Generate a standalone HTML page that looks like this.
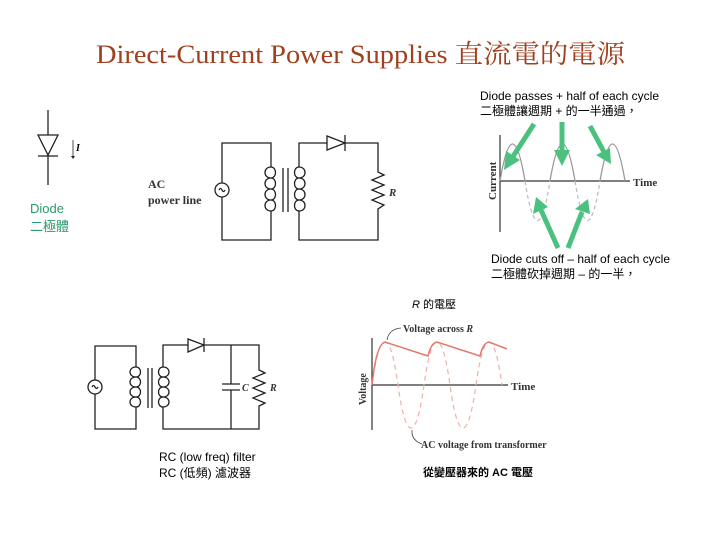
<!DOCTYPE html>
<html><head><meta charset="utf-8"><style>
body{margin:0;background:#fff;}
svg{display:block}
.s{font-family:"Liberation Sans","Noto Sans CJK TC",sans-serif;}
.t{font-family:"Liberation Serif","Noto Serif CJK SC",serif;}
</style></head><body>
<svg width="720" height="540" viewBox="0 0 720 540" xmlns="http://www.w3.org/2000/svg">
<text x="96" y="63" class="t" font-size="26" fill="#a0401f" textLength="529" lengthAdjust="spacingAndGlyphs">Direct-Current Power Supplies  直流電的電源</text>

<!-- standalone diode -->
<g stroke="#222" stroke-width="1.3" fill="none">
<line x1="48" y1="110" x2="48" y2="185"/>
<polygon points="38,135 58,135 48,155" fill="#fff"/>
<line x1="38" y1="156" x2="58" y2="156"/>
<line x1="73" y1="140" x2="73" y2="157" stroke-width="0.8"/>
</g>
<polygon points="71,156 75,156 73,159" fill="#222"/>
<text x="76" y="151" class="t" font-size="10" font-style="italic" font-weight="bold">I</text>
<text x="30" y="213" class="s" font-size="13" fill="#2a9a6a">Diode</text>
<text x="30" y="231" class="s" font-size="13" fill="#2a9a6a">二極體</text>

<!-- top circuit -->
<g stroke="#222" stroke-width="1.3" fill="none">
<polyline points="271,167 271,143 222,143 222,183"/>
<polyline points="222,197 222,240 271,240 271,211"/>
<circle cx="222" cy="190" r="7"/>
<path d="M219,190 q1.5,-3 3,0 t3,0"/>
<path d="M271,167 c6,0 6,11 0,11 c-8,0 -8,-11 0,-11 M271,178 c6,0 6,11 0,11 c-8,0 -8,-11 0,-11 M271,189 c6,0 6,11 0,11 c-8,0 -8,-11 0,-11 M271,200 c6,0 6,11 0,11 c-8,0 -8,-11 0,-11"/>
<line x1="283" y1="168" x2="283" y2="212"/><line x1="288" y1="168" x2="288" y2="212"/>
<path d="M299,167 c-6,0 -6,11 0,11 c8,0 8,-11 0,-11 M299,178 c-6,0 -6,11 0,11 c8,0 8,-11 0,-11 M299,189 c-6,0 -6,11 0,11 c8,0 8,-11 0,-11 M299,200 c-6,0 -6,11 0,11 c8,0 8,-11 0,-11"/>
<polyline points="299,167 299,143 378,143 378,172 384,175 372,180 384,185 372,190 384,195 372,200 384,205 378,209 378,240 299,240 299,211"/>
<polygon points="327,136 327,150 345,143" fill="#fff"/>
<line x1="345" y1="135" x2="345" y2="151"/>
</g>
<text x="148" y="188" class="t" font-size="12" font-weight="bold" fill="#333">AC</text>
<text x="148" y="204" class="t" font-size="12" font-weight="bold" fill="#333">power line</text>
<text x="389" y="196" class="t" font-size="11" font-weight="bold" font-style="italic" fill="#333">R</text>

<!-- current plot -->
<text x="480" y="100" class="s" font-size="12" textLength="179" lengthAdjust="spacingAndGlyphs">Diode passes + half of each cycle</text>
<text x="480" y="115" class="s" font-size="12">二極體讓週期 + 的一半通過，</text>
<g fill="none">
<line x1="500" y1="135" x2="500" y2="232" stroke="#333" stroke-width="1.2"/>
<line x1="500" y1="181" x2="630" y2="181" stroke="#333" stroke-width="1.2"/>
<path d="M500,181 Q512.5,107 525,181 M550,181 Q562.5,107 575,181 M600,181 Q612.5,107 625,181" stroke="#999" stroke-width="1.3"/>
<path d="M525,181 Q537.5,260 550,181 M575,181 Q587.5,260 600,181" stroke="#bbb" stroke-width="1.2" stroke-dasharray="4,3"/>
</g>
<text x="633" y="186" class="t" font-size="11" font-weight="bold" fill="#333">Time</text>
<text transform="translate(496,200) rotate(-90)" class="t" font-size="11" font-weight="bold" fill="#333">Current</text>
<g stroke="#4cc07f" stroke-width="5" fill="#4cc07f">
<line x1="534" y1="124" x2="512" y2="158"/><polygon points="504,170 506,151 520,160" stroke="none"/>
<line x1="562" y1="122" x2="562" y2="152"/><polygon points="562,166 554,150 570,150" stroke="none"/>
<line x1="590" y1="126" x2="604" y2="152"/><polygon points="611,164 596,155 610,148" stroke="none"/>
<line x1="558" y1="248" x2="541" y2="210"/><polygon points="536,197 533,214 548,207" stroke="none"/>
<line x1="568" y1="248" x2="582" y2="212"/><polygon points="588,199 575,209 590,214" stroke="none"/>
</g>
<text x="491" y="263" class="s" font-size="12" textLength="179" lengthAdjust="spacingAndGlyphs">Diode cuts off – half of each cycle</text>
<text x="491" y="278" class="s" font-size="12">二極體砍掉週期 –  的一半，</text>

<!-- bottom circuit -->
<g stroke="#222" stroke-width="1.3" fill="none">
<polyline points="136,367 136,346 95,346 95,380"/>
<polyline points="95,394 95,429 136,429 136,407"/>
<circle cx="95" cy="387" r="7"/>
<path d="M92,387 q1.5,-3 3,0 t3,0"/>
<path d="M136,367 c-6,0 -6,10 0,10 c8,0 8,-10 0,-10 M136,377 c-6,0 -6,10 0,10 c8,0 8,-10 0,-10 M136,387 c-6,0 -6,10 0,10 c8,0 8,-10 0,-10 M136,397 c-6,0 -6,10 0,10 c8,0 8,-10 0,-10" transform="translate(272,0) scale(-1,1)"/>
<line x1="148" y1="368" x2="148" y2="408"/><line x1="152" y1="368" x2="152" y2="408"/>
<path d="M163,367 c-6,0 -6,10 0,10 c8,0 8,-10 0,-10 M163,377 c-6,0 -6,10 0,10 c8,0 8,-10 0,-10 M163,387 c-6,0 -6,10 0,10 c8,0 8,-10 0,-10 M163,397 c-6,0 -6,10 0,10 c8,0 8,-10 0,-10"/>
<polyline points="163,367 163,345 259,345 259,370 265,373 253,378 265,383 253,388 265,393 253,398 265,403 259,406 259,429 163,429 163,407"/>
<polygon points="188,339 188,352 204,345" fill="#fff"/>
<line x1="204" y1="338" x2="204" y2="352"/>
<polyline points="231,345 231,384"/><polyline points="231,390 231,429"/>
<line x1="222" y1="384" x2="240" y2="384"/><line x1="222" y1="390" x2="240" y2="390"/>
</g>
<text x="242" y="391" class="t" font-size="10" font-weight="bold" font-style="italic" fill="#333">C</text>
<text x="270" y="391" class="t" font-size="10" font-weight="bold" font-style="italic" fill="#333">R</text>
<text x="159" y="461" class="s" font-size="12">RC (low freq) filter</text>
<text x="159" y="477" class="s" font-size="12">RC   (低頻) 濾波器</text>

<!-- voltage plot -->
<text x="412" y="308" class="s" font-size="11"><tspan font-style="italic">R</tspan> 的電壓</text>
<text x="403" y="332" class="t" font-size="10" font-weight="bold" fill="#333">Voltage across <tspan font-style="italic">R</tspan></text>
<path d="M401,328 q-12,1 -14,12" fill="none" stroke="#444" stroke-width="0.8"/>
<g fill="none">
<line x1="372" y1="338" x2="372" y2="430" stroke="#333" stroke-width="1.2"/>
<line x1="372" y1="385" x2="508" y2="385" stroke="#333" stroke-width="1.2"/>
<path d="M372,385 Q378,341 385,342 Q392,342 398,385 Q404,428 411,428 Q418,428 424,385 Q430,342 437,342 Q444,342 450,385 Q456,428 463,428 Q470,428 476,385 Q482,342 489,342 Q496,342 502,385" stroke="#f0b0a8" stroke-width="1.2" stroke-dasharray="5,4"/>
<path d="M372,385 Q376,345 385,342 L428,356 Q431,343 437,342 L480,356 Q483,343 489,342 L507,349" stroke="#e07a6a" stroke-width="1.5"/>
</g>
<text x="511" y="390" class="t" font-size="11" font-weight="bold" fill="#333">Time</text>
<text transform="translate(366,405) rotate(-90)" class="t" font-size="10" font-weight="bold" fill="#333">Voltage</text>
<path d="M412,430 q-1,10 10,14" fill="none" stroke="#444" stroke-width="0.8"/>
<text x="421" y="448" class="t" font-size="10" font-weight="bold" fill="#333">AC voltage from transformer</text>
<text x="423" y="476" class="s" font-size="11" font-weight="bold">從變壓器來的 AC 電壓</text>
</svg>
</body></html>
